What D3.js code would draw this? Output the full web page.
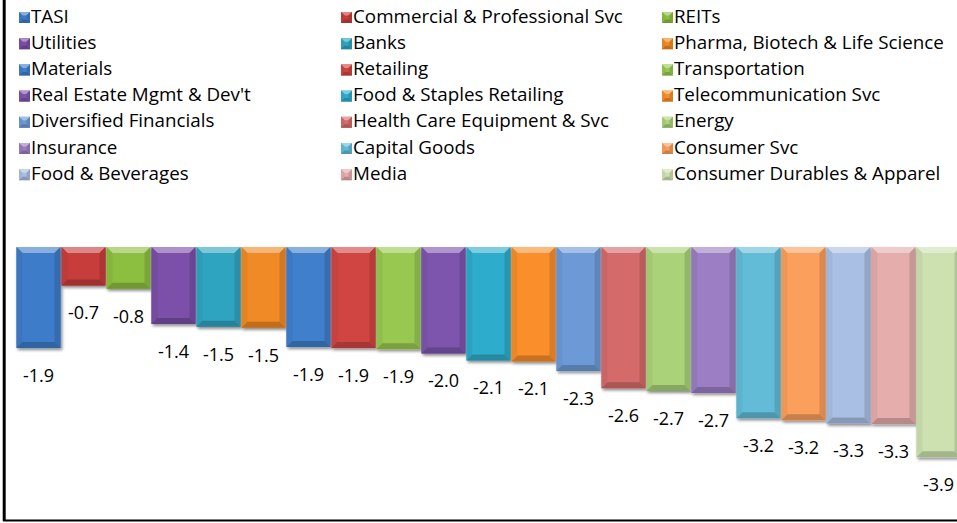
<!DOCTYPE html>
<html>
<head>
<meta charset="utf-8">
<script src="https://cdn.jsdelivr.net/npm/d3@7/dist/d3.min.js"></script>
<style>
  html, body { margin: 0; padding: 0; background: #fff; }
  svg { display: block; }
  text { font-family: "Open Sans", "Lato", sans-serif; fill: #000; }
</style>
</head>
<body>
<div id="chart"></div>
<script>
const categories = [
  "TASI", "Commercial & Professional Svc", "REITs",
  "Utilities", "Banks", "Pharma, Biotech & Life Science",
  "Materials", "Retailing", "Transportation",
  "Real Estate Mgmt & Dev't", "Food & Staples Retailing", "Telecommunication Svc",
  "Diversified Financials", "Health Care Equipment & Svc", "Energy",
  "Insurance", "Capital Goods", "Consumer Svc",
  "Food & Beverages", "Media", "Consumer Durables & Apparel"
];
const values = [
  -1.89, -0.72, -0.78,
  -1.44, -1.49, -1.51,
  -1.87, -1.89, -1.91,
  -1.99, -2.12, -2.14,
  -2.32, -2.64, -2.69,
  -2.73, -3.20, -3.24,
  -3.30, -3.31, -3.93
];
const colors = [
  "#3d7cc9", "#c73d3a", "#8cbf3f",
  "#7b4fa8", "#2fa4c0", "#f08a25",
  "#3f7fcc", "#d04542", "#98c850",
  "#7d55ad", "#2eaccb", "#f98e2a",
  "#6d9ad6", "#d46b6a", "#a9d279",
  "#9b7ec3", "#62bcd8", "#fb9f5c",
  "#a9bfe3", "#e5adab", "#cde1b0"
];

const W = 957, H = 523;
const svg = d3.select("#chart").append("svg").attr("width", W).attr("height", H);

const defs = svg.append("defs");
const f = defs.append("filter").attr("id", "shadow").attr("x", "-20%").attr("y", "-20%").attr("width", "140%").attr("height", "140%");
f.append("feDropShadow").attr("dx", 1.5).attr("dy", 2).attr("stdDeviation", 1.8).attr("flood-color", "#000").attr("flood-opacity", 0.45);

const x = d3.scaleBand().domain(categories).range([16, 961]).padding(0);
const y = d3.scaleLinear().domain([0, -4]).range([247, 461]);

function bevel(g, x0, x1, y0, y1, c, b) {
  const lighter = d3.interpolateRgb(c, "#ffffff");
  const darker = d3.interpolateRgb(c, "#000000");
  g.append("rect").attr("x", x0).attr("y", y0).attr("width", x1 - x0).attr("height", y1 - y0).attr("fill", c);
  const poly = (pts, fill) => g.append("polygon").attr("points", pts.map(p => p.join(",")).join(" ")).attr("fill", fill);
  poly([[x0, y0], [x1, y0], [x1 - b, y0 + b], [x0 + b, y0 + b]], lighter(0.38));
  poly([[x0, y0], [x0 + b, y0 + b], [x0 + b, y1 - b], [x0, y1]], darker(0.05));
  poly([[x1, y0], [x1, y1], [x1 - b, y1 - b], [x1 - b, y0 + b]], darker(0.13));
  poly([[x0, y1], [x1, y1], [x1 - b, y1 - b], [x0 + b, y1 - b]], darker(0.2));
}

// bars
const barsG = svg.append("g");
categories.forEach((cat, i) => {
  const g = barsG.append("g").attr("filter", "url(#shadow)");
  const x0 = x(cat), x1 = x(cat) + x.bandwidth();
  bevel(g, x0 + 0.5, x1 - 0.5, y(0), y(values[i]), colors[i], 6);
});

// data labels
const fmt = d3.format(".1f");
svg.append("g").selectAll("text").data(categories).join("text")
  .attr("x", d => x(d) + x.bandwidth() / 2)
  .attr("y", (d, i) => y(values[i]) + 29)
  .attr("text-anchor", "middle")
  .attr("dominant-baseline", "middle")
  .attr("font-size", 18)
  .text((d, i) => fmt(values[i]).replace("\u2212", "-"));

// legend
const colX = [19, 341, 662];
const rowY0 = 17, rowStep = 26.2;
const leg = svg.append("g");
categories.forEach((cat, i) => {
  const c = i % 3, r = Math.floor(i / 3);
  const gx = colX[c], gy = rowY0 + r * rowStep;
  const g = leg.append("g");
  bevel(g, gx, gx + 11, gy - 5, gy + 6, colors[i], 3.5);
  g.append("text").attr("x", gx + 12).attr("y", gy + 0.5).attr("dominant-baseline", "middle")
    .attr("font-size", 18.8).text(cat);
});

// frame (left & bottom visible)
svg.append("line").attr("x1", 4.2).attr("x2", 4.2).attr("y1", 0).attr("y2", 521).attr("stroke", "#000").attr("stroke-width", 3);
svg.append("line").attr("x1", 3).attr("x2", W).attr("y1", 520.5).attr("y2", 520.5).attr("stroke", "#000").attr("stroke-width", 2);
</script>
</body>
</html>
